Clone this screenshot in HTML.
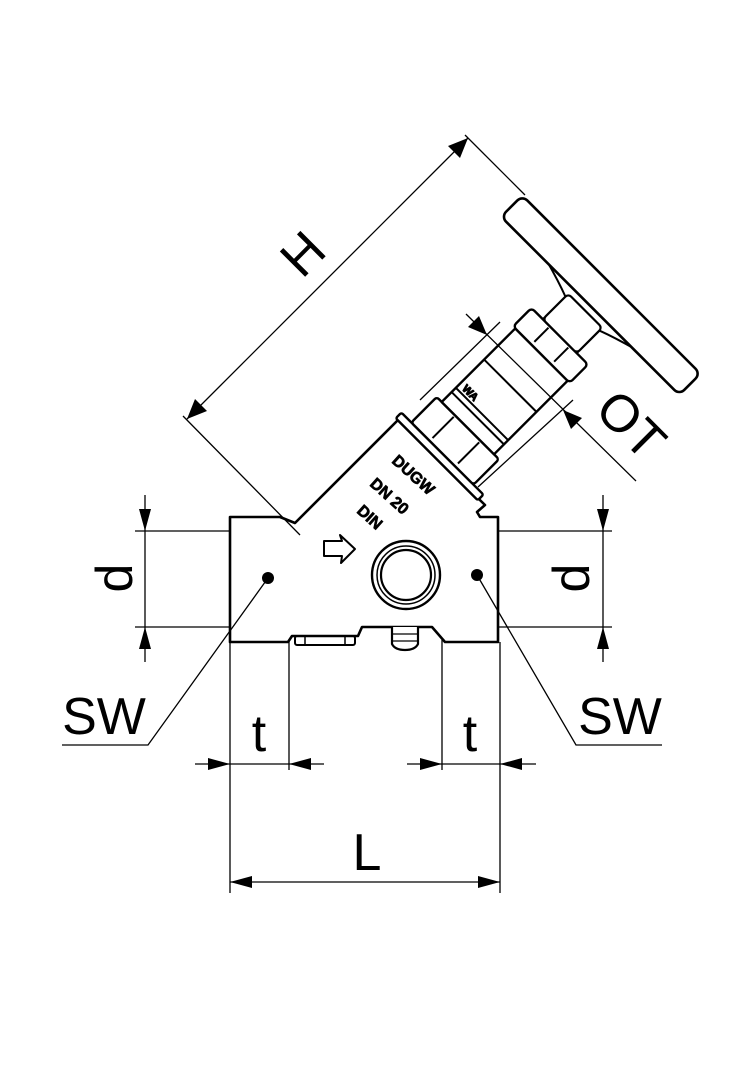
<!DOCTYPE html>
<html><head><meta charset="utf-8"><style>
html,body{margin:0;padding:0;background:#fff;}
svg{display:block;}
text{font-family:"Liberation Sans",sans-serif;fill:#000;}
</style></head><body>
<svg width="756" height="1080" viewBox="0 0 756 1080" xmlns="http://www.w3.org/2000/svg">
<g fill="none" stroke="#000" stroke-linejoin="round">
<!-- body -->
<path d="M230,517 L280,517 L295,523 L398,420 L485,505 L477,512 L480,517 L498,517 L498,642 L445,642 L432,627 L362,627 L358,636 L292,636 L288,642 L230,642 Z" stroke-width="2.6" fill="#fff"/>
<rect x="295" y="636" width="60" height="9" rx="2" stroke-width="2"/>
<line x1="305" y1="636" x2="305" y2="645" stroke-width="1.5"/>
<line x1="345" y1="636" x2="345" y2="645" stroke-width="1.5"/>
<path d="M392,627 L392,644 Q395,650 405,650 Q415,650 418,644 L418,627" stroke-width="2.2" fill="#fff"/>
<line x1="392" y1="634" x2="418" y2="634" stroke-width="1.2"/>
<line x1="392" y1="641" x2="418" y2="641" stroke-width="1.2"/>
<circle cx="406" cy="575" r="34" stroke-width="2.4"/>
<circle cx="406" cy="575" r="29" stroke-width="1.5"/>
<circle cx="406" cy="575" r="25" stroke-width="2.2"/>
<path d="M324,541 L342,541 L340,535 L355,549 L341,563 L342,556 L324,556 Z" stroke-width="2"/>
<circle cx="268" cy="578" r="6" fill="#000" stroke="none"/>
<circle cx="477" cy="575" r="6" fill="#000" stroke="none"/>
<!-- stem group -->
<g transform="translate(441,455) rotate(-45)">
<rect x="-6" y="-58" width="8" height="116" rx="2" stroke-width="2.4" fill="#fff"/>
<rect x="2" y="-44" width="36" height="88" rx="3" stroke-width="2.4" fill="#fff"/>
<line x1="6" y1="-18" x2="36" y2="-18" stroke-width="2"/>
<line x1="6" y1="18" x2="36" y2="18" stroke-width="2"/>
<rect x="38" y="-37" width="104" height="74" stroke-width="2.4" fill="#fff"/>
<line x1="52" y1="-37" x2="52" y2="37" stroke-width="2"/>
<line x1="58" y1="-37" x2="58" y2="37" stroke-width="2"/>
<line x1="98" y1="-37" x2="98" y2="37" stroke-width="2"/>
<text x="-32" y="-61" font-size="11" font-weight="bold" transform="rotate(90)" style="font-size:11px">WA</text>
<rect x="142" y="-40" width="26" height="80" rx="4" stroke-width="2.4" fill="#fff"/>
<line x1="146" y1="-14" x2="166" y2="-14" stroke-width="2"/>
<line x1="146" y1="14" x2="166" y2="14" stroke-width="2"/>
<path d="M168,-24 L200,-24 Q206,-40 212,-62 M168,24 L200,24 Q206,40 212,62" stroke-width="2"/>
<rect x="168" y="-24" width="36" height="48" rx="4" stroke-width="2.2" fill="#fff"/>
<rect x="211" y="-126" width="30" height="252" rx="7" stroke-width="2.6" fill="#fff"/>
</g>
</g>
<!-- body texts -->
<g font-weight="bold" font-size="16" style="paint-order:stroke" stroke="#000" stroke-width="0.7">
<text x="0" y="0" transform="translate(391,462) rotate(42)" fill="#fff">DUGW</text>
<text x="0" y="0" transform="translate(369,485) rotate(42)" fill="#fff">DN 20</text>
<text x="0" y="0" transform="translate(356,512) rotate(42)" fill="#fff">DIN</text>
</g>
<!-- dimension lines -->
<g stroke="#000" stroke-width="1.3" fill="none">
<line x1="187" y1="419" x2="468" y2="138"/>
<line x1="183" y1="416" x2="300" y2="535"/>
<line x1="465" y1="135" x2="525" y2="195"/>
<line x1="466" y1="314" x2="636" y2="481"/>
<line x1="420" y1="400" x2="500" y2="322"/>
<line x1="478" y1="487" x2="573" y2="400"/>
<line x1="145" y1="495" x2="145" y2="662"/>
<line x1="135" y1="531" x2="230" y2="531"/>
<line x1="135" y1="627" x2="230" y2="627"/>
<line x1="603" y1="495" x2="603" y2="662"/>
<line x1="498" y1="531" x2="612" y2="531"/>
<line x1="498" y1="627" x2="612" y2="627"/>
<polyline points="268,578 148,745 62,745"/>
<polyline points="477,575 576,745 662,745"/>
<line x1="230" y1="642" x2="230" y2="893"/>
<line x1="289" y1="640" x2="289" y2="770"/>
<line x1="442" y1="640" x2="442" y2="770"/>
<line x1="500" y1="642" x2="500" y2="893"/>
<line x1="195" y1="764" x2="324" y2="764"/>
<line x1="407" y1="764" x2="536" y2="764"/>
<line x1="230" y1="882" x2="500" y2="882"/>
</g>
<g fill="#000">
<polygon points="187,419 195,399 207,411"/>
<polygon points="468,138 448,146 460,158"/>
<polygon points="487,335 468,327 479,316"/>
<polygon points="563,410 582,418 571,429"/>
<polygon points="145,531 139,509 151,509"/>
<polygon points="145,627 139,649 151,649"/>
<polygon points="603,531 597,509 609,509"/>
<polygon points="603,627 597,649 609,649"/>
<polygon points="230,764 208,758 208,770"/>
<polygon points="289,764 311,758 311,770"/>
<polygon points="442,764 420,758 420,770"/>
<polygon points="500,764 522,758 522,770"/>
<polygon points="230,882 252,876 252,888"/>
<polygon points="500,882 478,876 478,888"/>
</g>
<g font-size="52">
<text x="0" y="0" text-anchor="middle" transform="translate(302,253) rotate(-45) translate(0,19)">H</text>
<text x="0" y="0" text-anchor="middle" transform="translate(632,424) rotate(45) translate(0,19)">OT</text>
<text x="0" y="0" text-anchor="middle" transform="translate(113,578) rotate(-90) translate(0,19)">d</text>
<text x="0" y="0" text-anchor="middle" transform="translate(570,578) rotate(-90) translate(0,19)">d</text>
<text x="104" y="734" text-anchor="middle">SW</text>
<text x="620" y="734" text-anchor="middle">SW</text>
<text x="259" y="751" text-anchor="middle">t</text>
<text x="470" y="751" text-anchor="middle">t</text>
<text x="367" y="870" text-anchor="middle">L</text>
</g>
</svg>
</body></html>
